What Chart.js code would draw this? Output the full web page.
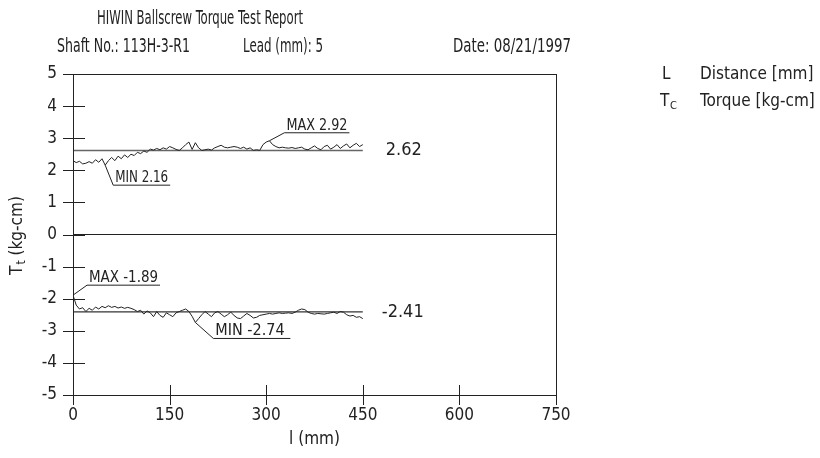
<!DOCTYPE html>
<html>
<head>
<meta charset="utf-8">
<script src="https://cdn.jsdelivr.net/npm/chart.js@4"></script>
<style>
  body { margin: 0; background: #fff; }
  #wrap { width: 820px; height: 458px; }
</style>
</head>
<body>
<div id="wrap"><canvas id="myChart" width="820" height="458"></canvas></div>
<script>
var FONT = '"Liberation Sans Narrow", "DejaVu Sans Condensed", "Roboto Condensed", sans-serif';

// distance along the shaft (mm)
var distance = [0,5,10,15,20,25,30,35,40,45,50,55,60,65,70,75,80,85,90,95,
	100,105,110,115,120,125,130,135,140,145,150,155,160,165,170,175,180,185,190,195,
	200,205,210,215,220,225,230,235,240,245,250,255,260,265,270,275,280,285,290,295,
	300,305,310,315,320,325,330,335,340,345,350,355,360,365,370,375,380,385,390,395,
	400,405,410,415,420,425,430,435,440,445,450];

// forward torque (kg-cm)
var torqueUp = [2.30,2.24,2.28,2.20,2.22,2.27,2.22,2.33,2.25,2.36,2.16,2.30,2.40,2.30,2.44,2.36,2.48,2.40,2.50,2.46,
	2.56,2.52,2.60,2.56,2.66,2.63,2.68,2.64,2.70,2.66,2.74,2.70,2.65,2.62,2.70,2.80,2.88,2.65,2.86,2.70,
	2.62,2.64,2.66,2.63,2.70,2.74,2.78,2.72,2.70,2.72,2.74,2.72,2.68,2.72,2.66,2.70,2.62,2.64,2.62,2.80,
	2.88,2.92,2.80,2.74,2.70,2.72,2.70,2.69,2.71,2.68,2.70,2.72,2.66,2.64,2.70,2.76,2.68,2.64,2.74,2.78,
	2.66,2.72,2.80,2.68,2.76,2.82,2.70,2.78,2.84,2.74,2.80];

// reverse torque (kg-cm)
var torqueDown = [-1.89,-2.20,-2.32,-2.28,-2.40,-2.30,-2.36,-2.26,-2.32,-2.24,-2.28,-2.22,-2.27,-2.24,-2.29,-2.26,-2.30,-2.27,-2.30,-2.34,
	-2.40,-2.36,-2.48,-2.38,-2.44,-2.56,-2.40,-2.52,-2.58,-2.44,-2.50,-2.56,-2.44,-2.40,-2.36,-2.32,-2.40,-2.55,-2.74,-2.62,
	-2.50,-2.40,-2.48,-2.56,-2.44,-2.40,-2.48,-2.56,-2.50,-2.42,-2.52,-2.60,-2.62,-2.54,-2.46,-2.52,-2.60,-2.58,-2.52,-2.50,
	-2.48,-2.46,-2.48,-2.46,-2.44,-2.46,-2.45,-2.44,-2.46,-2.42,-2.36,-2.32,-2.34,-2.42,-2.46,-2.48,-2.46,-2.47,-2.48,-2.46,
	-2.44,-2.42,-2.46,-2.40,-2.42,-2.50,-2.54,-2.52,-2.58,-2.56,-2.62];

// average values
var meanUp = 2.62;
var meanDown = -2.41;
var meanRange = [0, 450];

// peak notes
var noteText = ['MAX 2.92', 'MIN 2.16', 'MAX -1.89', 'MIN -2.74'];
var noteAt = [305, 50, 0, 190];
var noteVal = [2.92, 2.16, -1.89, -2.74];

var xTicks = [0, 150, 300, 450, 600, 750];
var yTicks = [5, 4, 3, 2, 1, 0, -1, -2, -3, -4, -5];

function toPoints(xs, ys) {
	var out = [];
	for (var i = 0; i < xs.length; i++) {
		out.push({x: xs[i], y: ys[i]});
	}
	return out;
}

function line(ctx, x1, y1, x2, y2) {
	ctx.beginPath();
	ctx.moveTo(x1, y1);
	ctx.lineTo(x2, y2);
	ctx.stroke();
}

// where each note's underline starts, relative to the point, and how long it is
var noteStyle = [
	{dx: 15, dy: -8, len: 65},
	{dx: 8, dy: 20, len: 57},
	{dx: 14, dy: -10, len: 73},
	{dx: 18, dy: 16, len: 77}
];

var extras = {
	id: 'extras',
	afterDraw: function(chart) {
		var ctx = chart.ctx, a = chart.chartArea;
		var xs = chart.scales.x, ys = chart.scales.y;
		ctx.save();
		ctx.strokeStyle = '#222';
		ctx.lineWidth = 1;
		ctx.strokeRect(a.left + 0.5, a.top + 0.5, a.right - a.left, a.bottom - a.top);

		// tick marks crossing the axes
		ys.ticks.forEach(function(t) {
			var py = Math.round(ys.getPixelForValue(t.value)) + 0.5;
			line(ctx, a.left - 10, py, a.left + 12, py);
		});
		xs.ticks.forEach(function(t) {
			var px = Math.round(xs.getPixelForValue(t.value)) + 0.5;
			line(ctx, px, a.bottom - 10, px, a.bottom + 10);
		});

		// notes with leader lines
		ctx.fillStyle = '#222';
		ctx.font = '16px ' + FONT;
		ctx.textAlign = 'left';
		ctx.textBaseline = 'alphabetic';
		for (var i = 0; i < noteText.length; i++) {
			var px = xs.getPixelForValue(noteAt[i]);
			var py = ys.getPixelForValue(noteVal[i]);
			var s = noteStyle[i];
			var ux = px + s.dx, uy = py + s.dy;
			line(ctx, px, py, ux, uy);
			line(ctx, ux, uy, ux + s.len, uy);
			ctx.fillText(noteText[i], ux + 2, uy - 3, s.len - 4);
		}

		// mean labels
		ctx.font = '18px ' + FONT;
		ctx.textBaseline = 'middle';
		ctx.fillText(meanUp.toFixed(2), xs.getPixelForValue(meanRange[1]) + 23, ys.getPixelForValue(meanUp));
		ctx.fillText(meanDown.toFixed(2), xs.getPixelForValue(meanRange[1]) + 19, ys.getPixelForValue(meanDown));

		// header
		ctx.font = '20px ' + FONT;
		ctx.textAlign = 'center';
		ctx.fillText('HIWIN Ballscrew Torque Test Report', 200, 19, 206);
		ctx.textAlign = 'left';
		ctx.fillText('Shaft No.: 113H-3-R1', 57, 47, 133);
		ctx.fillText('Lead (mm): 5', 243, 47, 80);
		ctx.textAlign = 'right';
		ctx.fillText('Date: 08/21/1997', 571, 47, 118);

		// key
		ctx.textAlign = 'left';
		ctx.font = '17px ' + FONT;
		ctx.fillText('L', 662, 75);
		ctx.fillText('Distance [mm]', 700, 75, 115);
		ctx.fillText('T', 660, 102);
		ctx.fillText('Torque [kg-cm]', 700, 102, 118);
		ctx.font = '11px ' + FONT;
		ctx.fillText('C', 670, 106);

		// y title with subscript
		ctx.translate(18, 236);
		ctx.rotate(-Math.PI / 2);
		ctx.textAlign = 'left';
		ctx.font = '17px ' + FONT;
		var w1 = ctx.measureText('T').width;
		ctx.font = '12px ' + FONT;
		var w2 = ctx.measureText('t').width;
		ctx.font = '17px ' + FONT;
		var w3 = ctx.measureText(' (kg-cm)').width;
		var x0 = -(w1 + w2 + w3) / 2;
		ctx.fillText('T', x0, 0);
		ctx.font = '12px ' + FONT;
		ctx.fillText('t', x0 + w1 + 1, 4);
		ctx.font = '17px ' + FONT;
		ctx.fillText(' (kg-cm)', x0 + w1 + w2 + 1, 0);
		ctx.restore();
	}
};

var ctx = document.getElementById('myChart').getContext('2d');
var chart = new Chart(ctx, {
	type: 'line',
	data: {
		datasets: [{
			data: toPoints(distance, torqueUp),
			borderColor: '#222',
			borderWidth: 1
		}, {
			data: toPoints(distance, torqueDown),
			borderColor: '#222',
			borderWidth: 1
		}, {
			data: toPoints(meanRange, [meanUp, meanUp]),
			borderColor: '#666',
			borderWidth: 1.5
		}, {
			data: toPoints(meanRange, [meanDown, meanDown]),
			borderColor: '#333',
			borderWidth: 1.2
		}]
	},
	options: {
		responsive: false,
		animation: false,
		layout: {padding: {top: 74, right: 264, left: 0, bottom: 0}},
		elements: {point: {radius: 0}, line: {tension: 0}},
		plugins: {legend: {display: false}, tooltip: {enabled: false}},
		scales: {
			x: {
				type: 'linear',
				min: 0,
				max: 750,
				afterBuildTicks: function(s) { s.ticks = xTicks.map(function(v) { return {value: v}; }); },
				afterFit: function(s) { s.height = 63; },
				grid: {display: false},
				border: {display: true, color: '#222', width: 1},
				ticks: {color: '#222', padding: 2, font: {family: FONT, size: 17}},
				title: {display: true, text: 'l (mm)', color: '#222', padding: {top: 0, bottom: 8}, font: {family: FONT, size: 17}}
			},
			y: {
				min: -5,
				max: 5,
				afterBuildTicks: function(s) { s.ticks = yTicks.map(function(v) { return {value: v}; }); },
				afterFit: function(s) { s.width = 73; },
				grid: {
					drawTicks: false,
					color: function(c) { return c.tick && c.tick.value === 0 ? '#222' : 'rgba(0,0,0,0)'; }
				},
				border: {display: true, color: '#222', width: 1},
				ticks: {color: '#222', padding: 16, font: {family: FONT, size: 17}}
			}
		}
	},
	plugins: [extras]
});
</script>
</body>
</html>
